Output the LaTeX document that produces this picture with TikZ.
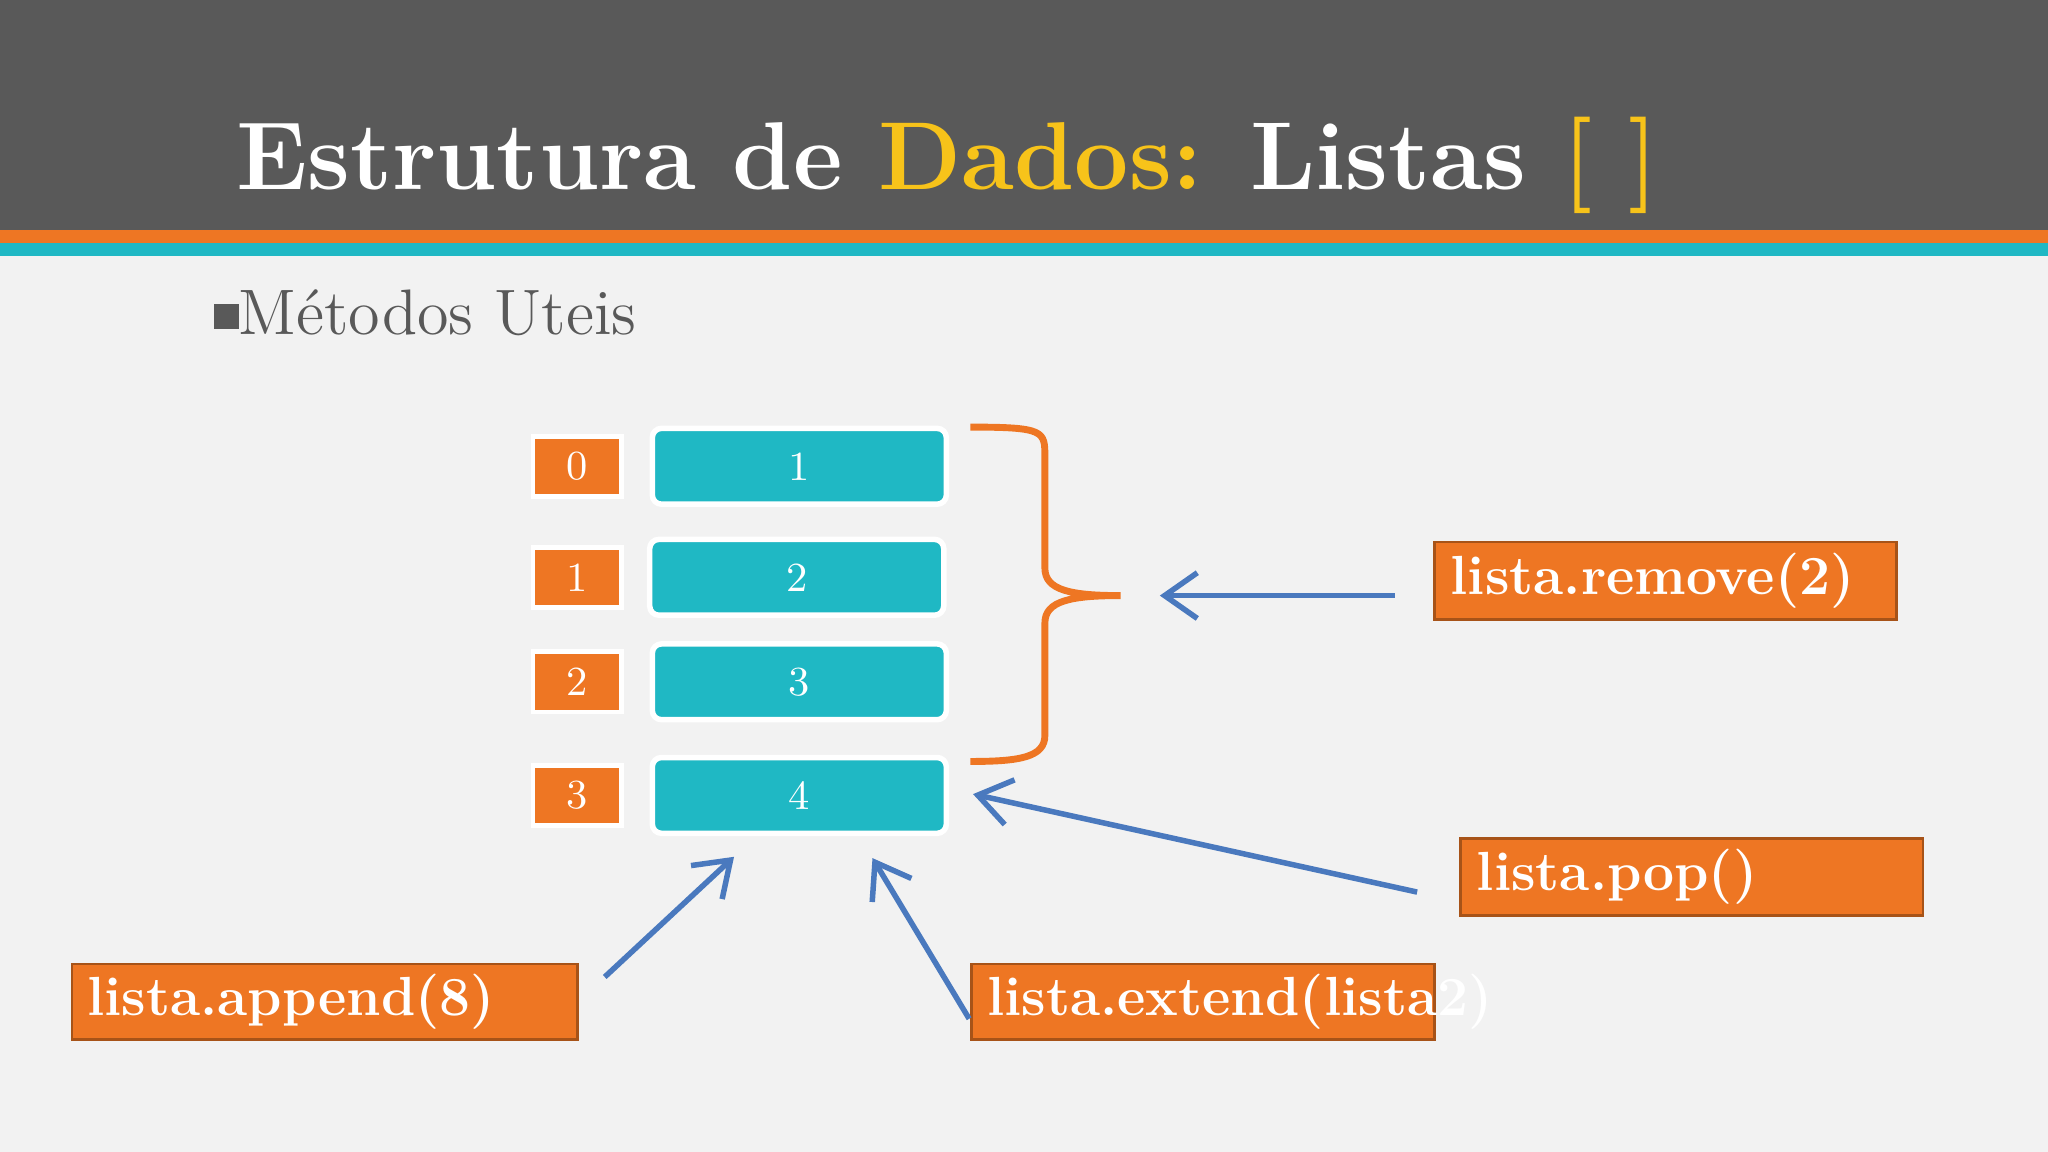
\documentclass[tikz,border=0pt]{standalone}
\usepackage{tikz}
\usetikzlibrary{arrows.meta,calc}
\definecolor{bg}{HTML}{F2F2F2}
\definecolor{head}{HTML}{595959}
\definecolor{orng}{HTML}{EE7623}
\definecolor{teal}{HTML}{1FB8C4}
\definecolor{gold}{HTML}{F7C31A}
\definecolor{arr}{HTML}{4A79BE}
\tikzset{
	idx/.style={fill=orng, draw=white, line width=1pt, text=white, minimum width=0.68cm, minimum height=0.46cm, font=\fontsize{9}{10}\selectfont},
	cell/.style={fill=teal, draw=white, line width=1.2pt, rounded corners=2pt, text=white, minimum width=2.25cm, minimum height=0.58cm, font=\fontsize{9}{10}\selectfont},
	method/.style={fill=orng, draw=orng!70!black, line width=0.6pt, text=white, anchor=north west, inner sep=0pt, font=\fontsize{12}{14}\selectfont\bfseries},
	pointer/.style={draw=arr, line width=1.2pt, -{Straight Barb[length=2.5mm,width=3.5mm]}}
}
\begin{document}
\begin{tikzpicture}[x=0.01cm, y=-0.01cm]
		\useasboundingbox (0,0) rectangle (1568,882);
		\fill[bg] (0,0) rectangle (1568,882);
		\fill[head] (0,0) rectangle (1568,176);
		\fill[orng] (0,176) rectangle (1568,186);
		\fill[teal] (0,186) rectangle (1568,196);
		\node[anchor=base west, inner sep=0pt, text=white, font=\fontsize{21}{24}\selectfont\bfseries] (title) at (180,145)
			{Estrutura de \textcolor{gold}{Dados:} Listas \textcolor{gold}{[ ]}};
		\node[anchor=base west, inner sep=0pt, text=head, font=\fontsize{14}{16}\selectfont] (bullet) at (163,256)
			{\rule[0.2ex]{0.9ex}{0.9ex}Métodos Uteis};
		\foreach \i/\y/\cx in {0/357/612, 1/442/610, 2/522/612, 3/609/612} {
			\pgfmathtruncatemacro{\v}{\i+1}
			\node[idx] (i\i) at (442,\y) {\i};
			\node[cell] (c\i) at (\cx,\y) {\v};
		}
		% brace over the first rows
		\coordinate (tip) at (858,456);
		\draw[orng, line width=1.5pt] (743,327) .. controls (800,327) and (800,330) .. (800,350)
			-- (800,435) .. controls (800,452) and (820,456) .. (tip)
			.. controls (820,456) and (800,460) .. (800,477)
			-- (800,563) .. controls (800,580) and (780,583) .. (743,583);
		\node[method, minimum width=3.54cm, minimum height=0.59cm] (rem) at (1097,414) {};
		\node[anchor=west, text=white, font=\fontsize{12}{14}\selectfont\bfseries, inner sep=0pt] at ($(rem.west)+(13,0)$) {lista.remove(2)};
		\node[method, minimum width=3.54cm, minimum height=0.59cm] (pop) at (1117,641) {};
		\node[anchor=west, text=white, font=\fontsize{12}{14}\selectfont\bfseries, inner sep=0pt] at ($(pop.west)+(13,0)$) {lista.pop()};
		\node[method, minimum width=3.87cm, minimum height=0.58cm] (app) at (54,737) {};
		\node[anchor=west, text=white, font=\fontsize{12}{14}\selectfont\bfseries, inner sep=0pt] at ($(app.west)+(12,0)$) {lista.append(8)};
		\node[method, minimum width=3.54cm, minimum height=0.58cm] (ext) at (743,737) {};
		\node[anchor=west, text=white, font=\fontsize{12}{14}\selectfont\bfseries, inner sep=0pt] at ($(ext.west)+(12,0)$) {lista.extend(lista2)};
		\coordinate (r0) at (1068,456);
		\coordinate (p0) at (1085,683);
		\coordinate (a0) at (463,748);
		\coordinate (e0) at (742,780);
		\draw[pointer] (r0) -- (888,456);
		\draw[pointer] (p0) -- (745,608);
		\draw[pointer] (a0) -- (562,656);
		\draw[pointer] (e0) -- (668,657);
	\end{tikzpicture}
\end{document}
